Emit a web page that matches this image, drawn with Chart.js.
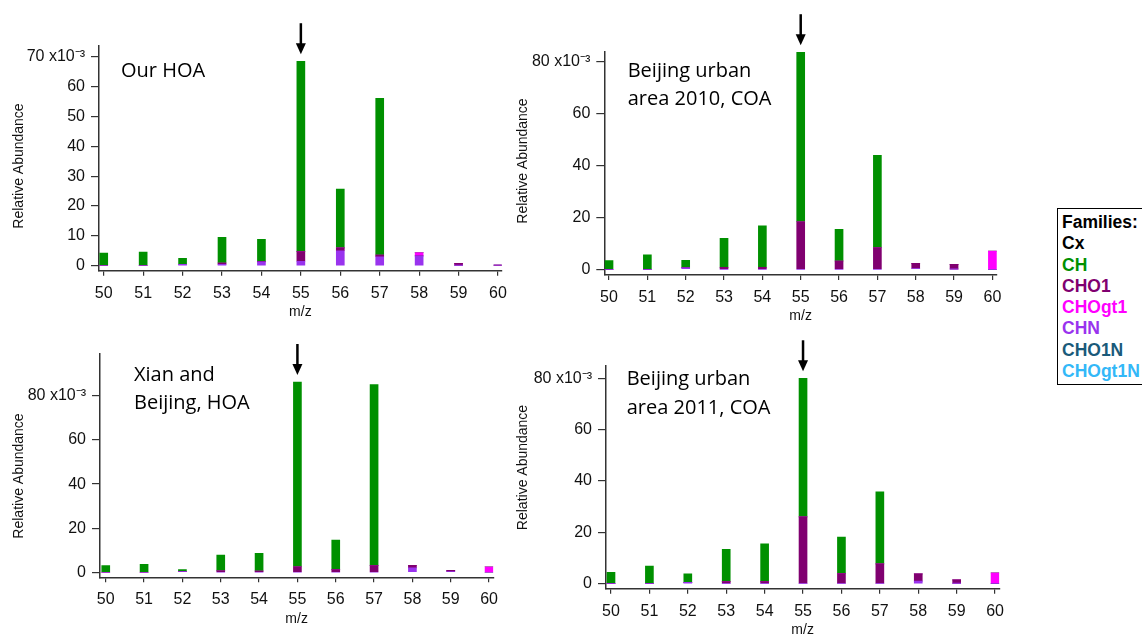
<!DOCTYPE html>
<html>
<head>
<meta charset="utf-8">
<script src="https://cdn.jsdelivr.net/npm/chart.js@4.4.1/dist/chart.umd.min.js"></script>
<style>
    body { margin: 0; width: 1142px; height: 634px; overflow: hidden; background: #fff; position: relative; }
    canvas { position: absolute; }
    #legend {
        position: absolute; left: 1057px; top: 208px; width: 100px; height: 177px;
        border: 1px solid #000; box-sizing: border-box; padding: 3px 0 0 4px;
        font: bold 17.5px "Liberation Sans", Arial, sans-serif; line-height: 21.3px; white-space: nowrap;
    }
</style>
</head>
<body>
<canvas id="c1" width="540" height="320" style="left:0px;top:0px"></canvas>
<canvas id="c2" width="540" height="330" style="left:500px;top:0px"></canvas>
<canvas id="c3" width="540" height="314" style="left:0px;top:320px"></canvas>
<canvas id="c4" width="540" height="320" style="left:500px;top:320px"></canvas>
<div id="legend"></div>
<script>
const mz = [50, 51, 52, 53, 54, 55, 56, 57, 58, 59, 60];

const families = ['Cx', 'CH', 'CHO1', 'CHOgt1', 'CHN', 'CHO1N', 'CHOgt1N'];
const familyColors = ['#000000', '#009000', '#800070', '#ff00ff', '#9933ee', '#1a5a7a', '#33b8f8'];

// values in units of 1e-3
const ourHoaCH     = [4.2, 4.6, 2.0, 8.6, 7.3, 63.8, 19.7, 52.5, 0, 0, 0];
const ourHoaCHO1   = [0, 0, 0, 0.4, 0.2, 3.2, 1.0, 0.6, 0, 0.7, 0];
const ourHoaCHOgt1 = [0, 0, 0, 0, 0, 0, 0, 0, 1.1, 0, 0];
const ourHoaCHN    = [0, 0, 0.5, 0.5, 1.3, 1.5, 5.0, 3.0, 3.3, 0.1, 0.2];

const bj2010CH     = [3.4, 5.6, 2.9, 11.1, 15.9, 65.3, 12.2, 35.5, 0, 0, 0];
const bj2010CHO1   = [0, 0, 0, 0.8, 0.8, 18.3, 3.2, 8.4, 2.0, 1.8, 0];
const bj2010CHOgt1 = [0, 0, 0, 0, 0, 0, 0, 0, 0, 0, 7.0];
const bj2010CHN    = [0, 0, 0.6, 0, 0, 0, 0, 0, 0.3, 0.1, 0];

const xianCH     = [3.1, 3.6, 0.9, 7.1, 8.0, 83.8, 13.4, 82.1, 0, 0, 0];
const xianCHO1   = [0, 0, 0, 0.7, 0.6, 2.5, 1.2, 3.0, 1.2, 0.6, 0];
const xianCHOgt1 = [0, 0, 0, 0, 0, 0, 0, 0, 0, 0, 2.5];
const xianCHN    = [0, 0, 0.3, 0, 0, 0, 0, 0, 2.0, 0.3, 0];

const bj2011CH     = [4.4, 6.9, 3.3, 12.6, 14.7, 54.0, 14.3, 28.1, 0, 0, 0];
const bj2011CHO1   = [0, 0, 0, 0.8, 0.8, 26.0, 3.9, 7.7, 2.8, 1.4, 0];
const bj2011CHOgt1 = [0, 0, 0, 0, 0, 0, 0, 0, 0, 0, 4.2];
const bj2011CHN    = [0, 0, 0.5, 0, 0, 0, 0, 0, 1.0, 0.1, 0];

const panels = [
    { id: 'c1', left: 0, top: 0, title: ['Our HOA'], titleX: 121, titleY: 77, yTitle: [19, 166],
      series: { CHN: ourHoaCHN, CHO1: ourHoaCHO1, CHOgt1: ourHoaCHOgt1, CH: ourHoaCH },
      area: { l: 99, t: 46, r: 501.7, b: 270.7 }, y: [-1.67, 73.6, 10], x: [49.88, 60.094] },
    { id: 'c2', left: 500, top: 0, title: ['Beijing urban', 'area 2010, COA'], titleX: 627.7, titleY: 76.7, yTitle: [523.5, 161],
      series: { CHN: bj2010CHN, CHO1: bj2010CHO1, CHOgt1: bj2010CHOgt1, CH: bj2010CH },
      area: { l: 604.3, t: 51.7, r: 997, b: 275 }, y: [-2.19, 83.8, 20], x: [49.877, 60.12] },
    { id: 'c3', left: 0, top: 320, title: ['Xian and', 'Beijing, HOA'], titleX: 134, titleY: 380.7, yTitle: [19, 476],
      series: { CHN: xianCHN, CHO1: xianCHO1, CHOgt1: xianCHOgt1, CH: xianCH },
      area: { l: 100, t: 354, r: 493.3, b: 577.3 }, y: [-2.27, 99, 20], x: [49.85, 60.11] },
    { id: 'c4', left: 500, top: 320, title: ['Beijing urban', 'area 2011, COA'], titleX: 626.7, titleY: 385, yTitle: [523.5, 467.5],
      series: { CHN: bj2011CHN, CHO1: bj2011CHO1, CHOgt1: bj2011CHOgt1, CH: bj2011CH },
      area: { l: 606, t: 365.7, r: 999.3, b: 588.7 }, y: [-1.95, 84.9, 20], x: [49.87, 60.11] },
];

const Y_AXIS_W = 90;
const X_AXIS_H = 50;

Chart.defaults.font.family = '"Liberation Sans", Arial, sans-serif';
Chart.defaults.color = '#222';

const panelNotes = {
    id: 'panelNotes',
    afterDraw(chart, args, opts) {
        const ctx = chart.ctx;
        ctx.save();
        ctx.fillStyle = '#000';
        ctx.font = '20px "Open Sans"';
        ctx.textBaseline = 'alphabetic';
        opts.lines.forEach((t, i) => ctx.fillText(t, opts.x, opts.y + i * 28.6));

        // y axis title
        ctx.save();
        ctx.translate(opts.yTitle[0], opts.yTitle[1]);
        ctx.rotate(-Math.PI / 2);
        ctx.font = '14px "Liberation Sans", Arial, sans-serif';
        ctx.fillStyle = '#111';
        ctx.textAlign = 'center';
        ctx.textBaseline = 'middle';
        ctx.fillText('Relative Abundance', 0, 0);
        ctx.restore();

        // arrow pointing at m/z 55
        const bars = chart.getDatasetMeta(chart.data.datasets.length - 1).data;
        const idx = mz.indexOf(55);
        const x = chart.scales.x.getPixelForValue(55);
        const tip = bars[idx].y - 7;
        ctx.strokeStyle = '#000';
        ctx.lineWidth = 2.5;
        ctx.beginPath();
        ctx.moveTo(x, tip - 31);
        ctx.lineTo(x, tip - 9);
        ctx.stroke();
        ctx.beginPath();
        ctx.moveTo(x, tip);
        ctx.lineTo(x - 5, tip - 11);
        ctx.lineTo(x + 5, tip - 11);
        ctx.closePath();
        ctx.fill();
        ctx.restore();
    }
};

function makePanel(p) {
    const canvas = document.getElementById(p.id);
    const cw = canvas.width, ch = canvas.height;
    const datasets = Object.keys(p.series).map(name => ({
        label: name,
        data: p.series[name],
        backgroundColor: familyColors[families.indexOf(name)],
        borderWidth: 0,
        barThickness: 8,
    }));

    return new Chart(canvas, {
        type: 'bar',
        data: { labels: mz, datasets: datasets },
        plugins: [panelNotes],
        options: {
            responsive: false,
            animation: false,
            devicePixelRatio: 1,
            layout: {
                padding: {
                    left: p.area.l - p.left - Y_AXIS_W,
                    top: p.area.t - p.top,
                    right: p.left + cw - p.area.r,
                    bottom: p.top + ch - p.area.b - X_AXIS_H,
                },
            },
            plugins: {
                legend: { display: false },
                tooltip: { enabled: false },
                panelNotes: {
                    lines: p.title, x: p.titleX - p.left, y: p.titleY - p.top,
                    yTitle: [p.yTitle[0] - p.left, p.yTitle[1] - p.top],
                },
            },
            scales: {
                x: {
                    type: 'linear',
                    stacked: true,
                    offset: false,
                    min: p.x[0],
                    max: p.x[1],
                    afterFit: scale => { scale.height = X_AXIS_H; },
                    grid: { offset: false, drawOnChartArea: false, color: '#333', lineWidth: 1.2, tickLength: 5 },
                    border: { display: true, color: '#333', width: 1.5 },
                    ticks: { stepSize: 1, includeBounds: false, autoSkip: false, maxRotation: 0, padding: 8,
                             font: { size: 16 }, color: '#111' },
                    title: { display: true, text: 'm/z', font: { size: 14 }, color: '#111', padding: { top: 0, bottom: 0 } },
                },
                y: {
                    stacked: true,
                    min: p.y[0],
                    max: p.y[1],
                    afterFit: scale => { scale.width = Y_AXIS_W; },
                    grid: { drawOnChartArea: false, color: '#333', lineWidth: 1.2, tickLength: 8 },
                    border: { display: true, color: '#333', width: 1.5 },
                    ticks: {
                        stepSize: p.y[2], includeBounds: false, padding: 6, font: { size: 16 }, color: '#111',
                        callback: (value, index, ticks) => index === ticks.length - 1 ? value + ' x10\u207B\u00B3' : value,
                    },
                    title: { display: false },
                },
            },
        },
    });
}

panels.forEach(makePanel);

const legend = document.getElementById('legend');
legend.innerHTML = '<div>Families:</div>' + families
    .map((f, i) => `<div style="color:${familyColors[i]}">${f}</div>`).join('');
</script>
</body>
</html>
